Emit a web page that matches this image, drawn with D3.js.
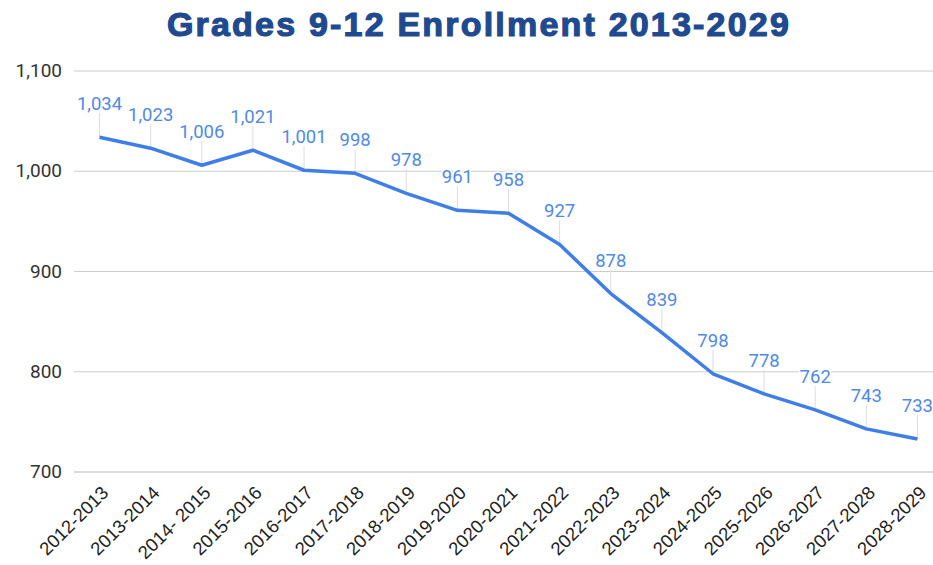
<!DOCTYPE html>
<html>
<head>
<meta charset="utf-8">
<script src="https://cdnjs.cloudflare.com/ajax/libs/d3/7.8.5/d3.min.js"></script>
<style>
  body { margin: 0; background: #fff; }
  svg { display: block; }
</style>
</head>
<body>
<div id="chart"></div>
<script>
var svgWidth = 933;
var svgHeight = 565;

// school years and enrollment
var years = ["2012-2013", "2013-2014", "2014- 2015", "2015-2016", "2016-2017", "2017-2018",
  "2018-2019", "2019-2020", "2020-2021", "2021-2022", "2022-2023", "2023-2024",
  "2024-2025", "2025-2026", "2026-2027", "2027-2028", "2028-2029"];
var enrollment = [1034, 1023, 1006, 1021, 1001, 998, 978, 961, 958, 927, 878, 839,
  798, 778, 762, 743, 733];
var yTicks = [700, 800, 900, 1000, 1100];

var margin = { top: 71, right: 0, bottom: 93, left: 74 };

var svg = d3.select("#chart")
  .append("svg")
  .attr("width", svgWidth)
  .attr("height", svgHeight);

var data = years.map((y, i) => ({ year: y, value: enrollment[i] }));

var xScale = d3.scalePoint()
  .domain(years)
  .range([margin.left, 943])
  .padding(0.5);

var yScale = d3.scaleLinear()
  .domain([700, 1100])
  .range([svgHeight - margin.bottom, margin.top]);

// title
svg.append("text")
  .attr("x", 479)
  .attr("y", 36)
  .attr("text-anchor", "middle")
  .attr("font-family", "Liberation Sans, Arial, sans-serif")
  .attr("font-weight", "bold")
  .attr("font-size", "34px")
  .attr("letter-spacing", "2.2px")
  .attr("fill", "#1f4a8f")
  .attr("stroke", "#1f4a8f")
  .attr("stroke-width", 1.2)
  .text("Grades 9-12 Enrollment 2013-2029");

// gridlines
svg.append("g")
  .selectAll("line")
  .data(yTicks)
  .enter()
  .append("line")
  .attr("x1", margin.left)
  .attr("x2", svgWidth)
  .attr("y1", d => yScale(d))
  .attr("y2", d => yScale(d))
  .attr("stroke", d => d === 700 ? "#bbb" : "#ccc")
  .attr("stroke-width", 1);

// y axis labels
svg.append("g")
  .selectAll("text")
  .data(yTicks)
  .enter()
  .append("text")
  .attr("x", 62)
  .attr("y", d => yScale(d) + 6)
  .attr("text-anchor", "end")
  .attr("font-family", "Roboto, sans-serif")
  .attr("font-size", "19px")
  .attr("fill", "#333")
  .text(d3.format(","));

// x axis labels
svg.append("g")
  .selectAll("text")
  .data(years)
  .enter()
  .append("text")
  .attr("transform", d => `translate(${xScale(d) + 10}, 494) rotate(-45)`)
  .attr("text-anchor", "end")
  .attr("font-family", "Liberation Sans, Arial, sans-serif")
  .attr("font-size", "18.5px")
  .attr("fill", "#222")
  .text(d => d);

// leader lines
svg.append("g")
  .selectAll("line")
  .data(data)
  .enter()
  .append("line")
  .attr("x1", d => xScale(d.year))
  .attr("x2", d => xScale(d.year))
  .attr("y1", d => yScale(d.value) - 24)
  .attr("y2", d => yScale(d.value))
  .attr("stroke", "#ddd")
  .attr("stroke-width", 1);

// line
var line = d3.line()
  .x(d => xScale(d.year))
  .y(d => yScale(d.value));

svg.append("path")
  .datum(data)
  .attr("d", line)
  .attr("fill", "none")
  .attr("stroke", "#3f7ee8")
  .attr("stroke-width", 3.5)
  .attr("stroke-linejoin", "round");

// data labels
svg.append("g")
  .selectAll("text")
  .data(data)
  .enter()
  .append("text")
  .attr("x", d => xScale(d.year))
  .attr("y", d => yScale(d.value) - 27)
  .attr("text-anchor", "middle")
  .attr("font-family", "Roboto, sans-serif")
  .attr("font-size", "18.5px")
  .attr("fill", "#5189e6")
  .attr("stroke", "#fff")
  .attr("stroke-width", 3)
  .attr("paint-order", "stroke")
  .text(d => d3.format(",")(d.value));
</script>
</body>
</html>
